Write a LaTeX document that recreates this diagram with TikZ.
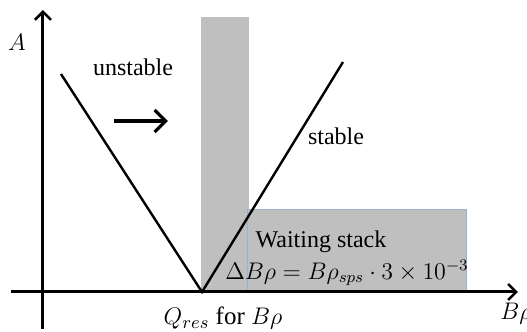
\documentclass[tikz,border=0pt]{standalone}
\usepackage{fontspec}
\setmainfont{Liberation Serif}
\usetikzlibrary{arrows.meta}
\definecolor{barg}{RGB}{191,191,191}
\definecolor{edgeb}{RGB}{150,180,210}
\begin{document}
\begin{tikzpicture}[x=0.5pt,y=-0.5pt,
  axis/.style={line width=1.5pt,-{Straight Barb[length=4pt,width=8pt,line width=1.3pt]}},
  bound/.style={line width=1.2pt},
  lab/.style={font=\fontsize{12}{14}\selectfont,inner sep=0pt},
  mlab/.style={font=\fontsize{11.5}{14}\selectfont,inner sep=0pt}]
\useasboundingbox (0,0) rectangle (527,332);
% shaded regions
\fill[barg] (201,17) rectangle (249,292);
\filldraw[fill=barg,draw=edgeb,line width=0.5pt] (248,210) rectangle (467,292);
% axes
\coordinate (xs) at (11,292);
\coordinate (xe) at (518,292);
\coordinate (ys) at (43,329);
\coordinate (ye) at (43,10);
\draw[axis] (xs) -- (xe);
\draw[axis] (ys) -- (ye);
% stability boundaries
\coordinate (q) at (202,292);
\coordinate (l) at (61,74);
\coordinate (r) at (343,62);
\draw[bound] (l) -- (q) -- (r);
% arrow
\coordinate (a1) at (114,121);
\coordinate (a2) at (168,121);
\draw[line width=2pt,-{Straight Barb[length=5.5pt,width=11pt,line width=1.6pt]}] (a1) -- (a2);
% labels
\node[mlab,font=\fontsize{12.5}{14}\selectfont] (A) at (17,42) {$A$};
\node[lab] (un) at (133,67) {unstable};
\node[lab] (st) at (336,136) {stable};
\node[lab] (ws) at (321,242) {Waiting stack};
\node[mlab] (dB) at (347,273) {$\Delta B\rho = B\rho_{sps}\cdot 3\times 10^{-3}$};
\node[mlab,font=\fontsize{12.5}{14}\selectfont] (Q) at (223,318) {$Q_{res}\ \mathrm{for}\ B\rho$};
\node[mlab,font=\fontsize{12.5}{14}\selectfont,anchor=west] (Br) at (500,314) {$B\rho$};
\end{tikzpicture}
\end{document}
